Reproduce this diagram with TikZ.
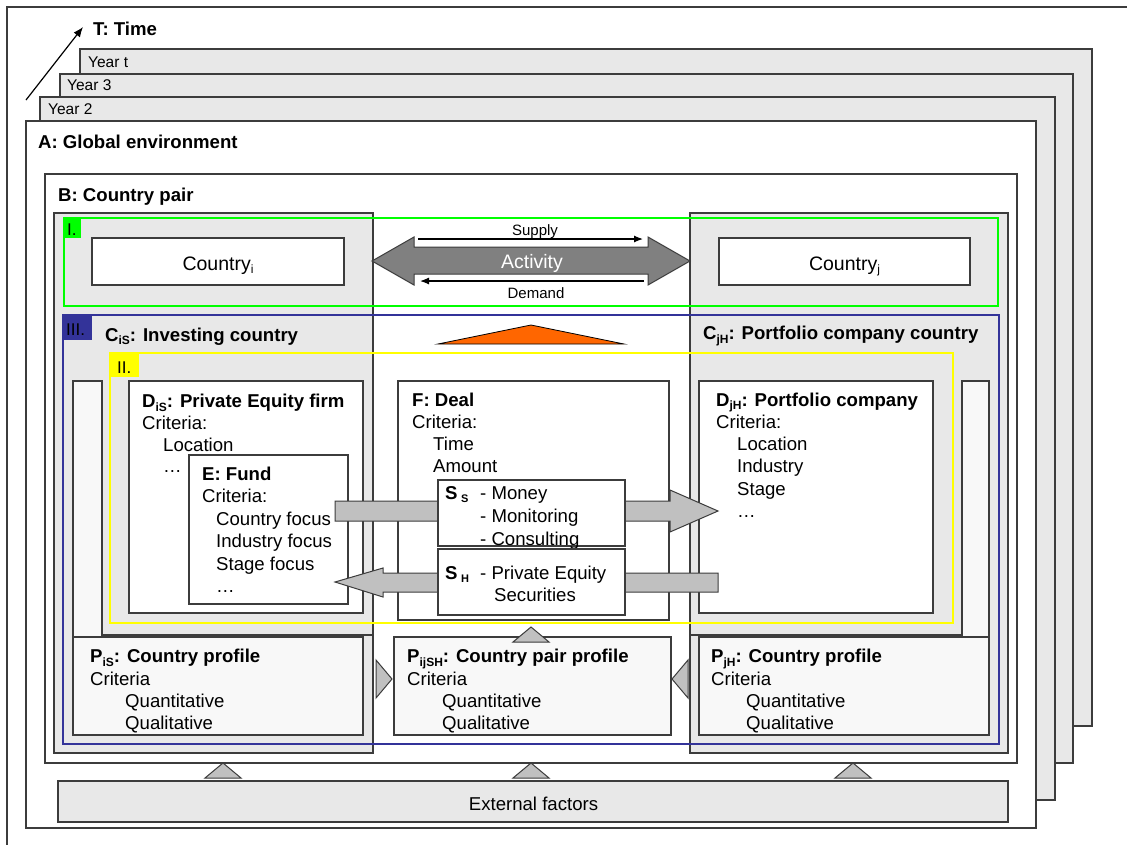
\documentclass[tikz,border=0pt]{standalone}
\usepackage{fontspec}
\setmainfont{Liberation Sans}
\usetikzlibrary{arrows.meta}

\definecolor{edge}{HTML}{3C3C3C}
\definecolor{panel}{HTML}{E8E8E8}
\definecolor{pale}{HTML}{F8F8F8}
\definecolor{arrowgray}{HTML}{C0C0C0}
\definecolor{actgray}{HTML}{808080}
\definecolor{lvlgreen}{HTML}{00FF00}
\definecolor{lvlnavy}{HTML}{333399}
\definecolor{lvlyellow}{HTML}{FFFF00}
\definecolor{flagorange}{HTML}{FF6600}

\newcommand\fsz[2]{\fontsize{#1}{#2}\selectfont}
\newcommand\lsub[1]{\raisebox{-3.5pt}{\fontsize{12}{12}\selectfont #1}}
\newcommand\firstln{\rule{0pt}{14pt}}

\tikzset{
  box/.style={draw=edge, line width=1.2pt},
  graybox/.style={box, fill=panel},
  palebox/.style={box, fill=pale},
  whitebox/.style={box, fill=white},
  blockarrow/.style={draw=edge, line width=1pt, fill=arrowgray, line join=miter},
  tri/.style={draw=edge, line width=1pt, fill=arrowgray},
  lvl/.style={line width=2.2pt},
  lbl/.style={inner sep=0pt, anchor=base west, font=\fsz{18.6}{22}},
  blk/.style={inner sep=0pt, anchor=north west, align=left},
  yearlbl/.style={inner sep=0pt, anchor=base west, font=\fsz{15.5}{18}},
}

\begin{document}
\begin{tikzpicture}[x=1pt, y=-1pt]
\useasboundingbox (0,0) rectangle (1127,844);
\fill[white] (0,0) rectangle (1127,844);
\clip (0,0) rectangle (1127,844);

% outer frame
\draw[edge, line width=1.2pt] (7,900) -- (7,7) -- (1200,7);

% time axis
\coordinate (t0) at (26,100);
\coordinate (t1) at (83,27);
\draw[line width=1.2pt, -{Latex[length=10pt,width=8pt]}] (t0) -- (t1);
\node[lbl] (tlabel) at (93,35) {\textbf{T: Time}};

% stacked years
\draw[graybox] (80,49) rectangle (1092,726);
\node[yearlbl] (yt) at (88,67) {Year t};
\draw[graybox] (60,74) rectangle (1073,763);
\node[yearlbl] (y3) at (67,90.5) {Year 3};
\draw[graybox] (40,97) rectangle (1055,800);
\node[yearlbl] (y2) at (48,114) {Year 2};

% A: global environment
\draw[whitebox] (26,121) rectangle (1036,828);
\node[lbl] (alabel) at (38,148) {\textbf{A: Global environment}};

% B: country pair
\draw[whitebox] (45,174) rectangle (1017,763);
\node[lbl] (blabel) at (58,201.5) {\textbf{B: Country pair}};

% country columns
\draw[graybox] (54,213) rectangle (373,753);
\draw[graybox] (690,213) rectangle (1008,753);

% pale strips and inner panel edges
\draw[palebox] (73,381) rectangle (102,637);
\draw[box] (102,635) -- (373,635);
\draw[palebox] (962,381) rectangle (989,637);
\draw[box] (690,635) -- (962,635);

% level I: countries and activity
\draw[whitebox] (92,238) rectangle (344,285);
\node[inner sep=0pt, anchor=base, font=\fsz{19.5}{22}] (ci) at (218,270) {Country\lsub{i}};
\draw[whitebox] (719,238) rectangle (970,285);
\node[inner sep=0pt, anchor=base, font=\fsz{19.5}{22}] (cj) at (844.5,270) {Country\lsub{j}};

\draw[draw=edge, line width=1pt, fill=actgray, line join=miter]
  (372,261) -- (414,237) -- (414,247) -- (648,247) -- (648,237) -- (690,261)
  -- (648,285) -- (648,274) -- (414,274) -- (414,285) -- cycle;
\node[inner sep=0pt, anchor=base, font=\fsz{19.5}{22}, text=white] (act) at (532,268.5) {Activity};
\coordinate (sup0) at (418,239);
\coordinate (sup1) at (643,239);
\draw[line width=1.2pt, -{Latex[length=9pt,width=7pt]}] (sup0) -- (sup1);
\node[inner sep=0pt, anchor=base, font=\fsz{15}{18}] (supply) at (535,235.5) {Supply};
\coordinate (dem0) at (644,281);
\coordinate (dem1) at (420,281);
\draw[line width=1.2pt, -{Latex[length=9pt,width=7pt]}] (dem0) -- (dem1);
\node[inner sep=0pt, anchor=base, font=\fsz{15}{18}] (demand) at (536,298.3) {Demand};

\draw[lvl, lvlgreen] (64,218) rectangle (998,306);
\fill[lvlgreen] (64,218) rectangle (81,238);
\node[inner sep=0pt, anchor=base west, font=\fsz{17}{20}] (lvlone) at (67,235) {I.};

% level III: country frame
\draw[lvl, lvlnavy] (63,315) rectangle (999,744);
\fill[lvlnavy] (63,315) rectangle (92,340);
\node[inner sep=0pt, anchor=base west, font=\fsz{17}{20}] (lvlthree) at (66,335.7) {III.};
\node[lbl] (cis) at (105,341) {\textbf{C\lsub{iS}: Investing country}};
\node[lbl] (cjh) at (703,339.5) {\textbf{C\lsub{jH}: Portfolio company country}};

\draw[draw=black, line width=0.8pt, fill=flagorange] (438,344) -- (531,325) -- (624,344) -- cycle;

% actors and deal
\draw[whitebox] (129,381) rectangle (363,613);
\node[blk, font=\fsz{18.6}{21.7}] (dis) at (142,393.5)
  {\firstln\textbf{D\lsub{iS}: Private Equity firm}\\Criteria:\\\hspace*{21pt}Location\\\hspace*{21pt}…};
\draw[whitebox] (189,455) rectangle (348,604);
\node[blk, font=\fsz{18.6}{22.5}] (fund) at (202,466)
  {\firstln\textbf{E: Fund}\\Criteria:\\\hspace*{14pt}Country focus\\\hspace*{14pt}Industry focus\\\hspace*{14pt}Stage focus\\\hspace*{14pt}…};
\draw[whitebox] (398,381) rectangle (669,620);
\node[blk, font=\fsz{18.6}{22.1}] (deal) at (412,392)
  {\firstln\textbf{F: Deal}\\Criteria:\\\hspace*{21pt}Time\\\hspace*{21pt}Amount};
\draw[whitebox] (699,381) rectangle (933,613);
\node[blk, font=\fsz{18.6}{22.25}] (djh) at (716,392)
  {\firstln\textbf{D\lsub{jH}: Portfolio company}\\Criteria:\\\hspace*{21pt}Location\\\hspace*{21pt}Industry\\\hspace*{21pt}Stage\\\hspace*{21pt}…};

% flows between investor and company
\draw[blockarrow] (335,501) -- (670,501) -- (670,490) -- (718,511) -- (670,532) -- (670,521) -- (335,521) -- cycle;
\draw[blockarrow] (335,582) -- (383,568) -- (383,573) -- (718,573) -- (718,592) -- (383,592) -- (383,597) -- cycle;

\draw[whitebox] (438,480) rectangle (625,546);
\node[lbl] (ss) at (445,499) {\textbf{S}\hspace{3.5pt}\raisebox{-3pt}{\fontsize{11}{11}\selectfont\bfseries S}};
\node[blk, font=\fsz{18.6}{23}] (sslist) at (480,485) {\firstln- Money\\- Monitoring\\- Consulting};
\draw[whitebox] (438,549) rectangle (625,615);
\node[lbl] (sh) at (445,579.5) {\textbf{S}\hspace{3.5pt}\raisebox{-3pt}{\fontsize{11}{11}\selectfont\bfseries H}};
\node[blk, font=\fsz{18.6}{21.5}] (shlist) at (480,565.5) {\firstln- Private Equity\\\hspace*{14pt}Securities};

% level II frame
\draw[lvl, lvlyellow] (110,353) rectangle (953,623);
\fill[lvlyellow] (110,353) rectangle (139,377);
\node[inner sep=0pt, anchor=base west, font=\fsz{17}{20}] (lvltwo) at (117,373.3) {II.};

% country profiles
\draw[palebox] (73,637) rectangle (363,735);
\node[blk, font=\fsz{18.6}{22.1}] (pis) at (90,648.7)
  {\firstln\textbf{P\lsub{iS}: Country profile}\\Criteria\\\hspace*{35pt}Quantitative\\\hspace*{35pt}Qualitative};
\draw[palebox] (394,637) rectangle (671,735);
\node[blk, font=\fsz{18.6}{22.1}] (pijsh) at (407,648.7)
  {\firstln\textbf{P\lsub{ijSH}: Country pair profile}\\Criteria\\\hspace*{35pt}Quantitative\\\hspace*{35pt}Qualitative};
\draw[palebox] (699,637) rectangle (989,735);
\node[blk, font=\fsz{18.6}{22.1}] (pjh) at (711,648.7)
  {\firstln\textbf{P\lsub{jH}: Country profile}\\Criteria\\\hspace*{35pt}Quantitative\\\hspace*{35pt}Qualitative};

% influence markers
\draw[tri] (376,660) -- (392,679) -- (376,698) -- cycle;
\draw[tri] (688,660) -- (672,679) -- (688,698) -- cycle;
\draw[tri] (513,642) -- (531,627) -- (549,642) -- cycle;
\draw[tri] (205,778) -- (223,763) -- (241,778) -- cycle;
\draw[tri] (513,778) -- (531,763) -- (549,778) -- cycle;
\draw[tri] (835,778) -- (853,763) -- (871,778) -- cycle;

% external factors
\draw[graybox] (58,781) rectangle (1008,822);
\node[inner sep=0pt, anchor=base, font=\fsz{18.6}{22}] (ext) at (533.5,810) {External factors};
\end{tikzpicture}
\end{document}
